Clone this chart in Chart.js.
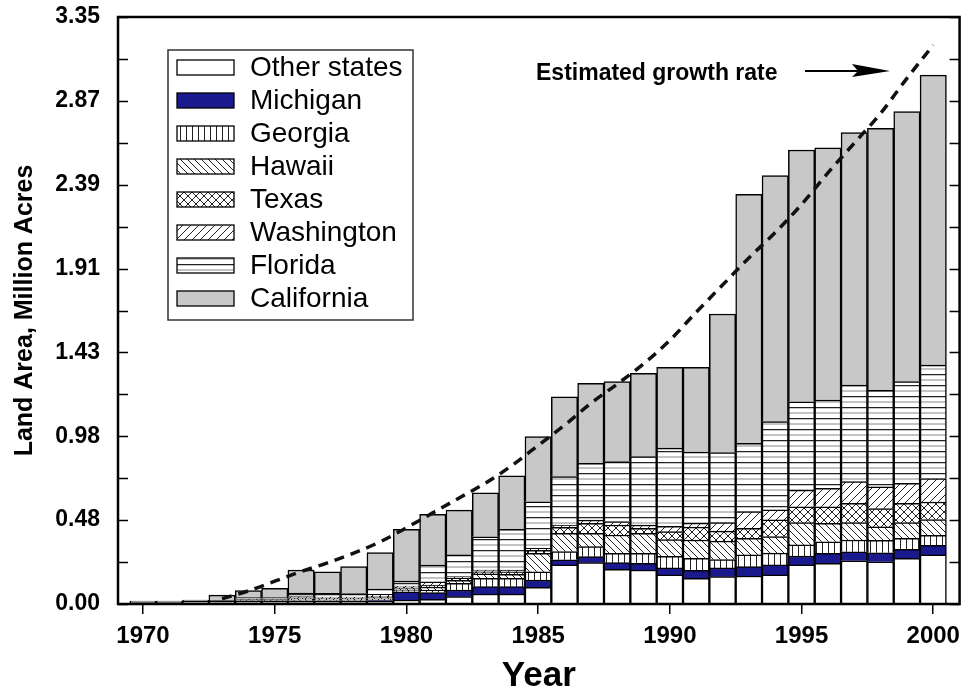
<!DOCTYPE html>
<html><head><meta charset="utf-8">
<script src="https://cdn.jsdelivr.net/npm/chart.js@4.4.1/dist/chart.umd.min.js"></script>
<style>html,body{margin:0;padding:0;background:#fff;}#wrap{width:968px;height:696px;}</style>
</head><body><div id="wrap"><canvas id="c" width="968" height="696"></canvas></div>
<script>
// ---------- data (million acres) ----------
const years = [1970,1971,1972,1973,1974,1975,1976,1977,1978,1979,1980,1981,1982,1983,1984,1985,1986,1987,1988,1989,1990,1991,1992,1993,1994,1995,1996,1997,1998,1999,2000];
const otherStates = [0.012,0.012,0.015,0.015,0.015,0.015,0.015,0.015,0.015,0.015,0.023,0.027,0.042,0.057,0.057,0.095,0.223,0.236,0.198,0.194,0.166,0.147,0.156,0.160,0.166,0.223,0.232,0.247,0.241,0.261,0.280];
const michigan    = [0,0,0,0,0,0,0,0,0,0.005,0.047,0.038,0.038,0.042,0.042,0.042,0.029,0.034,0.038,0.038,0.040,0.045,0.050,0.053,0.057,0.051,0.057,0.051,0.051,0.051,0.055];
const georgia     = [0,0,0,0,0.005,0.005,0.005,0.005,0.005,0.010,0.011,0.015,0.038,0.048,0.048,0.047,0.047,0.057,0.053,0.057,0.066,0.068,0.048,0.067,0.067,0.063,0.066,0.067,0.072,0.063,0.057];
const hawaii      = [0,0,0,0,0.005,0.005,0.010,0.010,0.010,0.010,0.011,0.017,0.017,0.025,0.023,0.105,0.105,0.076,0.105,0.114,0.095,0.105,0.105,0.095,0.095,0.127,0.105,0.099,0.076,0.089,0.090];
const texas       = [0,0,0,0,0,0,0.005,0.005,0.005,0.005,0.005,0.011,0.011,0.012,0.013,0.017,0.034,0.057,0.057,0.029,0.046,0.074,0.057,0.057,0.095,0.091,0.095,0.111,0.105,0.111,0.100];
const washington  = [0,0,0,0,0.005,0.005,0.008,0.005,0.005,0.010,0.005,0.019,0.010,0.010,0.011,0.011,0.013,0.019,0.020,0.019,0.030,0.023,0.048,0.095,0.057,0.095,0.105,0.123,0.123,0.114,0.134];
const florida     = [0.005,0.005,0,0.006,0.006,0.006,0.020,0.021,0.020,0.030,0.029,0.095,0.124,0.190,0.232,0.266,0.276,0.324,0.342,0.390,0.447,0.405,0.400,0.390,0.504,0.504,0.504,0.552,0.552,0.580,0.647];
const california  = [0,0,0.008,0.030,0.040,0.054,0.131,0.123,0.153,0.208,0.295,0.290,0.256,0.251,0.305,0.372,0.456,0.457,0.456,0.476,0.461,0.484,0.791,1.421,1.404,1.437,1.439,1.440,1.495,1.541,1.655];
const growthYears  = [1973,1974,1975,1976,1977,1978,1979,1980,1981,1982,1983,1984,1985,1986,1987,1988,1989,1990,1991,1992,1993,1994,1995,1996,1997,1998,1999,2000];
const growthValues = [0.030,0.075,0.130,0.185,0.235,0.290,0.355,0.435,0.520,0.605,0.690,0.790,0.905,1.020,1.145,1.255,1.370,1.505,1.665,1.820,1.975,2.120,2.280,2.460,2.630,2.800,3.000,3.190];
const yTickLabels = ['0.00','0.48','0.98','1.43','1.91','2.39','2.87','3.35'];
const xTickYears = [1970,1975,1980,1985,1990,1995,2000];
const seriesNames = ['Other states','Michigan','Georgia','Hawaii','Texas','Washington','Florida','California'];
const growthLabel = 'Estimated growth rate';

// ---------- fill patterns ----------
function pat(w, h, draw, bg) {
  const c = document.createElement('canvas'); c.width = w; c.height = h;
  const g = c.getContext('2d');
  g.fillStyle = bg || '#fff'; g.fillRect(0, 0, w, h);
  g.strokeStyle = '#222'; g.lineWidth = 1;
  draw(g, w, h);
  return document.getElementById('c').getContext('2d').createPattern(c, 'repeat');
}
function diag(g, s, dir) {
  g.beginPath();
  for (let k = -1; k <= 1; k++) {
    if (dir > 0) { g.moveTo(k * s, s); g.lineTo(k * s + s, 0); }
    else { g.moveTo(k * s, 0); g.lineTo(k * s + s, s); }
  }
  g.stroke();
}
const fills = [
  '#ffffff',
  '#1a1a8e',
  pat(6, 6, (g, w, h) => { g.beginPath(); g.moveTo(0.5, 0); g.lineTo(0.5, h); g.stroke(); }),
  pat(7, 7, (g, w) => diag(g, w, -1)),
  pat(8, 8, (g, w) => { diag(g, w, -1); diag(g, w, 1); }),
  pat(8, 8, (g, w) => diag(g, w, 1)),
  pat(8, 11, (g, w, h) => { g.lineWidth = 1.3; g.beginPath(); g.moveTo(0, 0.6); g.lineTo(w, 0.6); g.stroke();
                            g.lineWidth = 1; g.strokeStyle = '#888'; g.beginPath(); g.moveTo(0, 6); g.lineTo(w, 6); g.stroke(); }),
  '#c8c8c8'
];
const seriesValues = [otherStates, michigan, georgia, hawaii, texas, washington, florida, california];

const barSets = seriesValues.map((arr, i) => ({
  type: 'bar',
  label: seriesNames[i],
  data: years.map((yr, j) => ({ x: yr, y: arr[j] })),
  backgroundColor: fills[i],
  borderColor: '#000',
  borderWidth: 1.5,
  categoryPercentage: 1,
  barPercentage: 1,
  order: 1
}));
const lineSet = {
  type: 'line',
  label: growthLabel,
  stack: 'growth',
  data: growthYears.map((yr, j) => ({ x: yr, y: growthValues[j] })),
  borderColor: '#111',
  borderWidth: 3.5,
  borderDash: [10, 7],
  pointRadius: 0,
  fill: false,
  cubicInterpolationMode: 'monotone',
  order: 0
};

const SANS = '"Liberation Sans", Arial, Helvetica, sans-serif';

const decor = {
  id: 'decor',
  afterDraw(chart) {
    const { ctx, chartArea: a, scales: { y } } = chart;
    ctx.save();
    ctx.strokeStyle = '#000';
    ctx.lineWidth = 2.5;
    ctx.strokeRect(a.left, a.top, a.right - a.left, a.bottom - a.top);
    ctx.lineWidth = 1.5;
    ctx.beginPath();
    y.ticks.forEach(t => {
      const py = Math.round(y.getPixelForValue(t.value)) + 0.5;
      ctx.moveTo(a.left, py); ctx.lineTo(a.left + 10, py);
      ctx.moveTo(a.right, py); ctx.lineTo(a.right - 10, py);
    });
    ctx.stroke();

    const bx = 168, by = 50, bw = 245, bh = 270;
    ctx.fillStyle = '#fff';
    ctx.fillRect(bx, by, bw, bh);
    ctx.lineWidth = 1.5; ctx.strokeStyle = '#333';
    ctx.strokeRect(bx, by, bw, bh);
    ctx.font = '28px ' + SANS;
    ctx.textBaseline = 'middle';
    ctx.textAlign = 'left';
    barSets.forEach((ds, i) => {
      const cy = 67.5 + i * 33;
      ctx.fillStyle = ds.backgroundColor;
      ctx.fillRect(177, cy - 7.5, 57, 15);
      ctx.strokeStyle = '#000'; ctx.lineWidth = 1.3;
      ctx.strokeRect(177, cy - 7.5, 57, 15);
      ctx.fillStyle = '#000';
      ctx.fillText(ds.label, 250, cy + 1);
    });

    ctx.font = 'bold 23px ' + SANS;
    ctx.fillStyle = '#000';
    ctx.fillText(growthLabel, 536, 74);
    ctx.strokeStyle = '#000'; ctx.lineWidth = 2;
    ctx.beginPath(); ctx.moveTo(805, 71); ctx.lineTo(860, 71); ctx.stroke();
    ctx.beginPath(); ctx.moveTo(852, 64); ctx.lineTo(890, 71); ctx.lineTo(852, 77); ctx.lineTo(858, 71); ctx.closePath(); ctx.fill();
    ctx.restore();
  }
};

new Chart(document.getElementById('c'), {
  data: { datasets: [...barSets, lineSet] },
  options: {
    responsive: false,
    animation: false,
    events: [],
    layout: { padding: { top: 17, right: 2, left: 0, bottom: 0 } },
    plugins: { legend: { display: false }, tooltip: { enabled: false } },
    scales: {
      x: {
        type: 'linear', stacked: true, min: 1969.05, max: 2001, offset: false,
        afterBuildTicks: s => { s.ticks = xTickYears.map(v => ({ value: v })); },
        afterFit: s => { s.height = 92; },
        border: { display: false },
        grid: { display: true, offset: false, drawOnChartArea: false, drawTicks: true, tickLength: 10, color: '#000', lineWidth: 1.5 },
        ticks: { color: '#000', font: { family: SANS, size: 24, weight: 'bold' }, padding: 8, maxRotation: 0, autoSkip: false,
                 callback: v => String(v) },
        title: { display: true, text: 'Year', color: '#000', font: { family: SANS, size: 35, weight: 'bold', lineHeight: 1 }, padding: { top: 0, bottom: 2 } }
      },
      y: {
        stacked: true, min: 0, max: 3.35,
        afterBuildTicks: s => { s.ticks = Array.from({ length: 15 }, (_, i) => ({ value: i * 3.35 / 14 })); },
        afterFit: s => { s.width = 118; s.paddingTop = 0; s.paddingBottom = 0; },
        border: { display: false },
        grid: { display: false, drawTicks: false },
        ticks: { color: '#000', font: { family: SANS, size: 23, weight: 'bold' }, padding: 18, autoSkip: false,
                 callback: (v, i) => (i % 2 === 0 ? yTickLabels[i / 2] : '') },
        title: { display: true, text: 'Land Area, Million Acres', color: '#000', font: { family: SANS, size: 25, weight: 'bold', lineHeight: 1 }, padding: { top: 13, bottom: 0 } }
      }
    }
  },
  plugins: [decor]
});
</script></body></html>
